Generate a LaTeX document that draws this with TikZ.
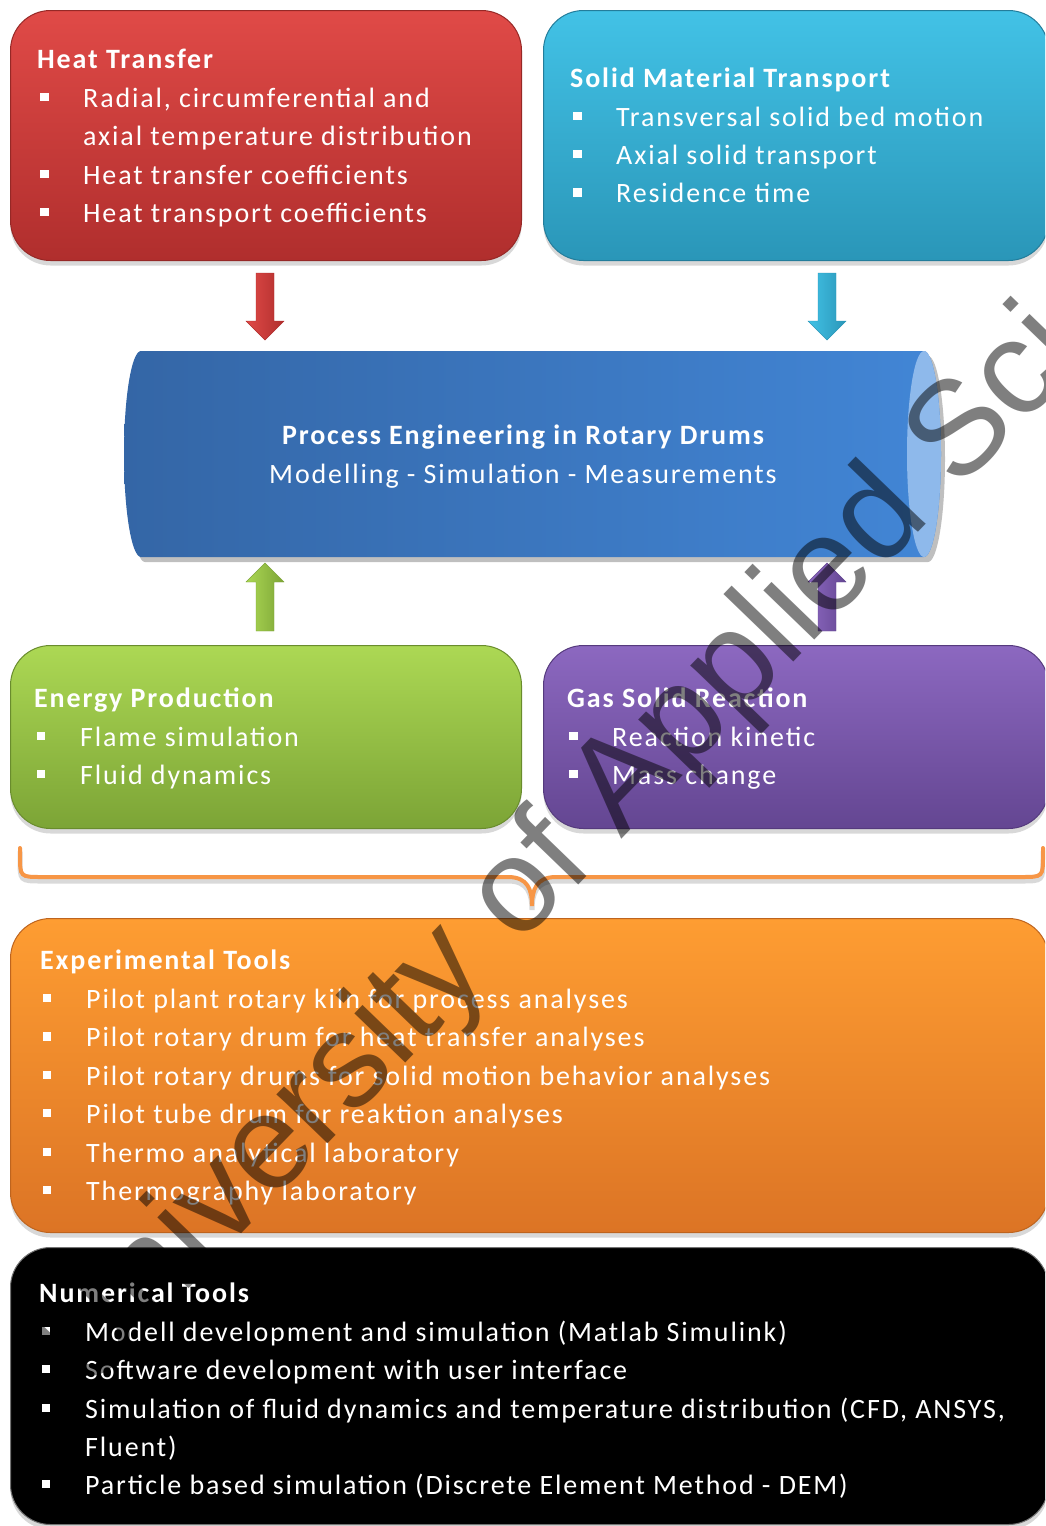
\documentclass[tikz,border=0pt]{standalone}
\usepackage{fontspec}
\setmainfont{Carlito}[LetterSpace=6.7]
\newfontfamily\wmfont{Liberation Sans}
\usetikzlibrary{calc,shadows}

\definecolor{redT}{RGB}{224,74,71}
\definecolor{redB}{RGB}{176,46,45}
\definecolor{redD}{RGB}{150,40,38}
\definecolor{cyaT}{RGB}{66,194,230}
\definecolor{cyaB}{RGB}{42,150,184}
\definecolor{cyaD}{RGB}{35,125,155}
\definecolor{grnT}{RGB}{172,216,84}
\definecolor{grnB}{RGB}{124,164,54}
\definecolor{grnD}{RGB}{105,140,45}
\definecolor{purT}{RGB}{140,104,192}
\definecolor{purB}{RGB}{100,70,146}
\definecolor{purD}{RGB}{85,58,125}
\definecolor{orgT}{RGB}{254,157,50}
\definecolor{orgB}{RGB}{220,116,37}
\definecolor{orgD}{RGB}{190,100,30}
\definecolor{drumL}{RGB}{52,102,166}
\definecolor{drumR}{RGB}{66,134,214}
\definecolor{drumC}{RGB}{142,185,235}
\definecolor{braceC}{RGB}{247,150,70}

\tikzset{
 box/.style={rounded corners=40pt, anchor=north west, line width=1pt, inner sep=0pt,
   drop shadow={shadow xshift=0pt, shadow yshift=-5pt, opacity=0.3}},
 txt/.style={anchor=base west, inner sep=0pt, text=white, font=\fontsize{28pt}{34pt}\selectfont},
 ttl/.style={txt, font=\fontsize{28pt}{34pt}\selectfont\bfseries},
 bul/.style={fill=white, inner sep=0pt, minimum size=8.5pt},
}
% item: name, bullet x, text x, baseline, text
\newcommand\itm[5]{\node[bul] (#1b) at (#2,#4-10) {}; \node[txt] (#1) at (#3,#4) {#5};}
\newcommand\arrdown[4]{%
 \shade[left color=#3, right color=#4, draw=#4, line width=0.4pt]
  ($(#1)+(-9,0)$) -- ($(#2)+(-9,-19)$) -- ($(#2)+(-19,-19)$) -- (#2) --
  ($(#2)+(19,-19)$) -- ($(#2)+(9,-19)$) -- ($(#1)+(9,0)$) -- cycle;}
\newcommand\arrup[4]{%
 \shade[left color=#3, right color=#4, draw=#4, line width=0.4pt]
  ($(#1)+(-9,0)$) -- ($(#2)+(-9,19)$) -- ($(#2)+(-19,19)$) -- (#2) --
  ($(#2)+(19,19)$) -- ($(#2)+(9,19)$) -- ($(#1)+(9,0)$) -- cycle;}

\begin{document}
\begin{tikzpicture}[x=1pt,y=-1pt]
\useasboundingbox (0,0) rectangle (1045,1526);
\clip (0,0) rectangle (1045,1526);
\fill[white] (0,0) rectangle (1045,1526);

% ---------- boxes ----------
\node[box, top color=redT, bottom color=redB, draw=redD, minimum width=511pt, minimum height=250pt] (ht) at (10,10) {};
\node[box, top color=cyaT, bottom color=cyaB, draw=cyaD, minimum width=505pt, minimum height=250pt] (smt) at (543,10) {};
\node[box, top color=grnT, bottom color=grnB, draw=grnD, minimum width=511pt, minimum height=183pt] (ep) at (10,645) {};
\node[box, top color=purT, bottom color=purB, draw=purD, minimum width=505pt, minimum height=183pt] (gsr) at (543,645) {};
\node[box, top color=orgT, bottom color=orgB, draw=orgD, minimum width=1038pt, minimum height=314pt] (et) at (10,918) {};
\node[box, fill=black, draw=black!55, minimum width=1038pt, minimum height=277pt] (nt) at (10,1247) {};

% ---------- drum ----------
\fill[black, opacity=0.25] (145,356) -- (928,356) arc[start angle=-90, end angle=90, x radius=17, y radius=103]
  -- (145,562) arc[start angle=90, end angle=270, x radius=17, y radius=103] -- cycle;
\shade[left color=drumL, right color=drumR] (141,351) -- (924,351)
  arc[start angle=-90, end angle=90, x radius=17, y radius=103]
  -- (141,557) arc[start angle=90, end angle=270, x radius=17, y radius=103] -- cycle;
\fill[drumC] (924,454) ellipse [x radius=17, y radius=103];
\node[ttl, anchor=base] (drumt) at (523,444) {Process Engineering in Rotary Drums};
\node[txt, anchor=base] (drums) at (523,483) {Modelling - Simulation - Measurements};

% ---------- arrows ----------
\coordinate (a1s) at (265,273); \coordinate (a1e) at (265,340);
\coordinate (a2s) at (827,273); \coordinate (a2e) at (827,340);
\coordinate (a3s) at (265,631); \coordinate (a3e) at (265,563);
\coordinate (a4s) at (827,631); \coordinate (a4e) at (827,563);
\arrdown{a1s}{a1e}{redT}{redB}
\arrdown{a2s}{a2e}{cyaT}{cyaB}
\arrup{a3s}{a3e}{grnT}{grnB}
\arrup{a4s}{a4e}{purT}{purB}

% ---------- brace ----------
\coordinate (brL) at (20,848); \coordinate (brM) at (532,906); \coordinate (brR) at (1043,848);
\draw[black, opacity=0.15, line width=5pt, line cap=round] ($(brL)+(0,4)$) -- ++(0,7) .. controls (20,881) .. (42,881) -- (508,881)
  .. controls (528,881) and (532,894) .. ($(brM)+(0,4)$) .. controls (532,894) and (536,881) .. (556,881) -- (1021,881)
  .. controls (1043,881) .. (1043,859) -- ($(brR)+(0,4)$);
\draw[braceC, line width=4pt, line cap=round] (brL) -- ++(0,7) .. controls (20,877) .. (42,877) -- (508,877)
  .. controls (528,877) and (532,890) .. (brM) .. controls (532,890) and (536,877) .. (556,877) -- (1021,877)
  .. controls (1043,877) .. (1043,855) -- (brR);

% ---------- texts ----------
\node[ttl] (htt) at (37,68) {Heat Transfer};
\itm{ht1}{44.5}{83}{107}{Radial, circumferential and}
\node[txt] (ht1c) at (83,145) {axial temperature distribution};
\itm{ht2}{44.5}{83}{184}{Heat transfer coefficients}
\itm{ht3}{44.5}{83}{222}{Heat transport coefficients}

\node[ttl] (smtt) at (570,87.5) {Solid Material Transport};
\itm{smt1}{577.5}{616}{126}{Transversal solid bed motion}
\itm{smt2}{577.5}{616}{164}{Axial solid transport}
\itm{smt3}{577.5}{616}{202.5}{Residence time}

\node[ttl] (ept) at (34,707) {Energy Production};
\itm{ep1}{41}{80}{746}{Flame simulation}
\itm{ep2}{41}{80}{784}{Fluid dynamics}

\node[ttl] (gsrt) at (567,707) {Gas Solid Reaction};
\itm{gsr1}{573.5}{612}{746}{Reaction kinetic}
\itm{gsr2}{573.5}{612}{784}{Mass change}

\node[ttl] (ett) at (40,969) {Experimental Tools};
\itm{et1}{47}{86}{1008}{Pilot plant rotary kiln for process analyses}
\itm{et2}{47}{86}{1046.5}{Pilot rotary drum for heat transfer analyses}
\itm{et3}{47}{86}{1085}{Pilot rotary drums for solid motion behavior analyses}
\itm{et4}{47}{86}{1123}{Pilot tube drum for reaktion analyses}
\itm{et5}{47}{86}{1162}{Thermo analytical laboratory}
\itm{et6}{47}{86}{1200}{Thermography laboratory}

\node[ttl] (ntt) at (39,1302) {Numerical Tools};
\itm{nt1}{46}{85}{1341}{Modell development and simulation (Matlab Simulink)}
\itm{nt2}{46}{85}{1379}{Software development with user interface}
\itm{nt3}{46}{85}{1418}{Simulation of fluid dynamics and temperature distribution (CFD, ANSYS,}
\node[txt] (nt3c) at (85,1456) {Fluent)};
\itm{nt4}{46}{85}{1494}{Particle based simulation (Discrete Element Method - DEM)}

% ---------- watermark ----------
\node[anchor=base west, rotate=46, inner sep=0pt, text=black, text opacity=0.5,
  font=\wmfont\fontsize{134pt}{156pt}\selectfont] (wm) at (83.8,1396.8) {University of Applied Sci};
\end{tikzpicture}
\end{document}
